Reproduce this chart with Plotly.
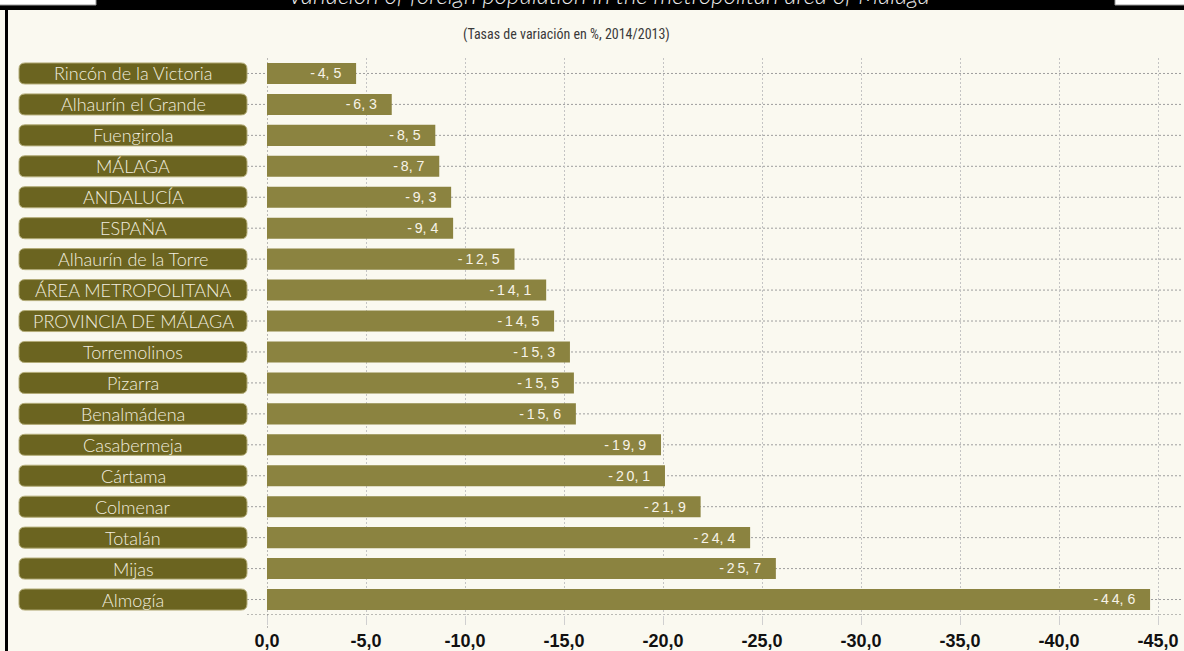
import plotly.graph_objects as go

W, H = 1184, 651

municipios = [
    "Rincón de la Victoria", "Alhaurín el Grande", "Fuengirola", "MÁLAGA",
    "ANDALUCÍA", "ESPAÑA", "Alhaurín de la Torre", "ÁREA METROPOLITANA",
    "PROVINCIA DE MÁLAGA", "Torremolinos", "Pizarra", "Benalmádena",
    "Casabermeja", "Cártama", "Colmenar", "Totalán", "Mijas", "Almogía",
]
tasas = [
    -4.5, -6.3, -8.5, -8.7, -9.3, -9.4, -12.5, -14.1, -14.5,
    -15.3, -15.5, -15.6, -19.9, -20.1, -21.9, -24.4, -25.7, -44.6,
]
ejes_x = [0, -5, -10, -15, -20, -25, -30, -35, -40, -45]

titulo = "Variación of foreign population in the metropolitan area of Málaga"
subtitulo = "(Tasas de variación en %, 2014/2013)"

BG = "#FAF9F0"
BAR = "#8B8340"
PILL = "#6B6420"
DOTS = "2px,2px"


def px_x(p):
    return p / W


def px_y(p):
    return 1 - p / H


def fmt(v):
    return f"{v:.1f}".replace(".", ",")


def spaced(s):
    # the original value labels are letter-spaced
    out = ""
    for ch in s:
        if ch == ",":
            out += ", "
        elif out and not out.endswith(" "):
            out += "\u2009" + ch
        else:
            out += ch
    return out + "\u00a0\u00a0\u00a0"


def rounded_rect(x0, x1, y0, y1, rx, ry):
    return (
        f"M {x0 + rx},{y0} L {x1 - rx},{y0} Q {x1},{y0} {x1},{y0 + ry} "
        f"L {x1},{y1 - ry} Q {x1},{y1} {x1 - rx},{y1} "
        f"L {x0 + rx},{y1} Q {x0},{y1} {x0},{y1 - ry} "
        f"L {x0},{y0 + ry} Q {x0},{y0} {x0 + rx},{y0} Z"
    )


idx = list(range(len(municipios)))

fig = go.Figure()
fig.add_trace(go.Bar(
    x=tasas,
    y=idx,
    orientation="h",
    width=0.68,
    marker=dict(color=BAR, line=dict(width=0)),
    text=[spaced(fmt(v)) for v in tasas],
    textposition="inside",
    insidetextanchor="end",
    textangle=0,
    textfont=dict(family="Liberation Sans, Arial", size=16, color="#F7F3E8"),
    cliponaxis=False,
    hoverinfo="skip",
))

shapes = [
    # black band on top
    dict(type="rect", xref="paper", yref="paper", x0=0, x1=1,
         y0=px_y(10), y1=1.01, fillcolor="black", line=dict(width=0)),
    dict(type="rect", xref="paper", yref="paper", x0=-0.01, x1=px_x(96),
         y0=px_y(5), y1=1.01, fillcolor="white", line=dict(color="#999999", width=1)),
    dict(type="rect", xref="paper", yref="paper", x0=px_x(1115), x1=1.01,
         y0=px_y(5), y1=1.01, fillcolor="white", line=dict(color="#999999", width=1)),
    # left border
    dict(type="rect", xref="paper", yref="paper", x0=px_x(5), x1=px_x(8),
         y0=-0.01, y1=px_y(10), fillcolor="black", line=dict(width=0)),
    # bottom dotted line
    dict(type="line", xref="paper", yref="y", x0=px_x(247), x1=px_x(1182),
         y0=len(municipios) - 0.5, y1=len(municipios) - 0.5,
         line=dict(color="#7A7A7A", width=1, dash=DOTS), layer="below"),
    # zero line
    dict(type="line", xref="x", yref="paper", x0=0, x1=0,
         y0=px_y(628), y1=px_y(58),
         line=dict(color="#7A7A7A", width=1, dash=DOTS), layer="below"),
]

annotations = [
    dict(text=titulo, xref="paper", yref="paper", x=px_x(609), y=1,
         xanchor="center", yanchor="middle", yshift=6, showarrow=False,
         font=dict(family="Lato, Noto Sans", size=24, color="#EDEDED",
                   style="italic", weight=300)),
    dict(text=subtitulo, xref="paper", yref="paper", x=px_x(566), y=px_y(35),
         xanchor="center", yanchor="middle", showarrow=False,
         font=dict(family="Liberation Sans Narrow, Roboto Condensed, Roboto",
                   size=14, color="#3A3A3A")),
]

for i, name in enumerate(municipios):
    shapes.append(dict(
        type="line", xref="paper", yref="y", x0=px_x(247), x1=px_x(1182),
        y0=i, y1=i, line=dict(color="#9E9E9E", width=1, dash=DOTS), layer="below",
    ))
    shapes.append(dict(
        type="path", xref="paper", yref="y",
        path=rounded_rect(px_x(19), px_x(247), i - 0.34, i + 0.34, px_x(6), 6 / 30.94),
        fillcolor=PILL, line=dict(color="#B3AC78", width=1),
    ))
    annotations.append(dict(
        text=name, xref="paper", yref="y", x=px_x(133), y=i,
        xanchor="center", yanchor="middle", showarrow=False,
        font=dict(family="Lato, Noto Sans", size=18, color="#F1EDDF", weight=300),
    ))

fig.update_layout(
    width=W,
    height=H,
    paper_bgcolor=BG,
    plot_bgcolor=BG,
    margin=dict(l=0, r=0, t=0, b=0, pad=0),
    showlegend=False,
    separators=",.",
    shapes=shapes,
    annotations=annotations,
    xaxis=dict(
        domain=[px_x(267), px_x(1182)],
        range=[0, -45 * (1182 - 267) / (1158 - 267)],
        tickvals=ejes_x,
        ticktext=[fmt(v) for v in ejes_x],
        automargin=False,
        showgrid=True,
        gridcolor="#C4C4C4",
        griddash=DOTS,
        gridwidth=1,
        zeroline=False,
        showline=False,
        ticks="outside",
        ticklen=9,
        tickcolor="#D0D0D0",
        tickfont=dict(family="Liberation Sans, Arial", size=18, color="#111111", weight="bold"),
    ),
    yaxis=dict(
        domain=[px_y(615), px_y(58)],
        range=[len(municipios) - 0.5, -0.5],
        automargin=False,
        showticklabels=False,
        showgrid=False,
        zeroline=False,
        showline=False,
    ),
)

# the page's default body margin would push the figure 8px off the window
fig.write_html(
    "out.html",
    config={"displayModeBar": False},
    post_script="document.body.style.margin = '0';",
)
